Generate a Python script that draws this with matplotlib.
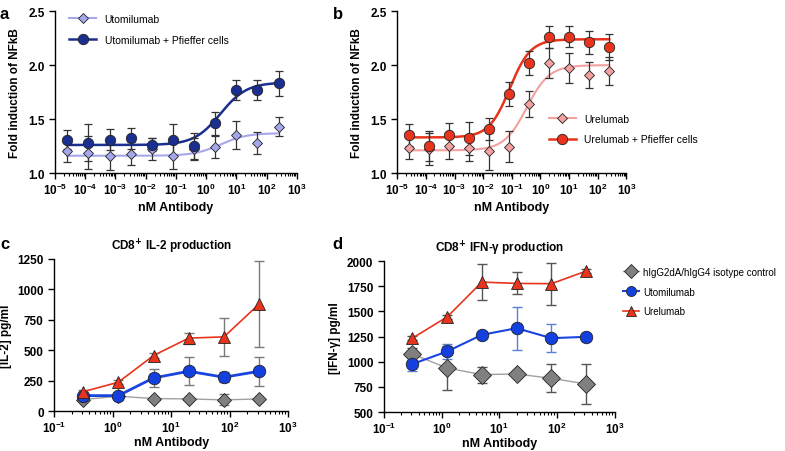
"""
NFkB reporter and CD8+ cytokine responses to anti-4-1BB antibodies
"""

import numpy as np
import matplotlib.pyplot as plt
from matplotlib.ticker import LogLocator, NullFormatter

plt.rcParams['font.family'] = ['Liberation Sans', 'DejaVu Sans']
plt.rcParams['font.weight'] = 'bold'
plt.rcParams['axes.labelweight'] = 'bold'
plt.rcParams['axes.titleweight'] = 'bold'

#---------------------------------------------------------------------------------------------------
# Data
#---------------------------------------------------------------------------------------------------

# Panels a, b: 5-fold dilution series (nM)
conc_ab = [2.56e-5, 1.28e-4, 6.4e-4, 3.2e-3, 1.6e-2, 0.08, 0.4, 2.0, 10.0, 50.0, 250.0]

uto = [1.20, 1.19, 1.16, 1.18, 1.22, 1.16, 1.22, 1.24, 1.35, 1.28, 1.43]
uto_err = [0.10, 0.15, 0.13, 0.11, 0.10, 0.12, 0.10, 0.10, 0.13, 0.10, 0.09]
uto_pf = [1.31, 1.28, 1.31, 1.32, 1.26, 1.31, 1.25, 1.46, 1.77, 1.77, 1.83]
uto_pf_err = [0.09, 0.17, 0.10, 0.10, 0.06, 0.14, 0.12, 0.11, 0.09, 0.09, 0.12]

ure = [1.23, 1.22, 1.25, 1.235, 1.20, 1.245, 1.64, 2.02, 1.975, 1.91, 1.95]
ure_err = [0.10, 0.15, 0.12, 0.12, 0.17, 0.14, 0.12, 0.14, 0.14, 0.12, 0.13]
ure_pf = [1.35, 1.25, 1.35, 1.32, 1.41, 1.73, 2.02, 2.26, 2.265, 2.21, 2.17]
ure_pf_err = [0.10, 0.14, 0.11, 0.15, 0.10, 0.11, 0.11, 0.10, 0.10, 0.11, 0.12]

# 4PL fit parameters: bottom, top, EC50 (nM), hill slope
fit_uto = [1.16, 1.37, 3.0, 1.0]
fit_uto_pf = [1.26, 1.84, 3.0, 1.0]
fit_ure = [1.21, 2.00, 0.33, 1.1]
fit_ure_pf = [1.33, 2.24, 0.085, 1.2]

# Panels c, d: 4-fold dilution series (nM)
conc_cd = [0.3125, 1.25, 5.0, 20.0, 80.0, 320.0]

il2_iso = [96, 123, 104, 101, 93, 101]
il2_iso_err = [10, 10, 8, 8, 45, 8]
il2_uto = [128, 128, 273, 328, 279, 328]
il2_uto_err = [15, 12, 75, 115, 40, 120]
il2_ure = [160, 238, 457, 600, 610, 880]
il2_ure_err = [15, 15, 20, 45, 157, 350]

ifn_iso = [1077, 938, 873, 879, 836, 780]
ifn_iso_err = [60, 220, 80, 20, 140, 200]
ifn_uto = [978, 1103, 1268, 1334, 1235, 1248]
ifn_uto_err = [70, 75, 20, 215, 140, 20]
ifn_ure = [1235, 1446, 1792, 1779, 1776, 1901]
ifn_ure_err = [20, 20, 180, 110, 210, 20]


#---------------------------------------------------------------------------------------------------
# Helpers
#---------------------------------------------------------------------------------------------------

def four_pl(x, p):
    bottom, top, ec50, hill = p
    return bottom + (top - bottom) / (1.0 + (ec50 / x)**hill)


def style_axis(ax, xlim):
    ax.set_xscale('log')
    ax.set_xlim(xlim)
    for s in ['top', 'right']:
        ax.spines[s].set_visible(False)
    for s in ['left', 'bottom']:
        ax.spines[s].set_linewidth(1.0)
    ax.xaxis.set_major_locator(LogLocator(base=10, numticks=20))
    ax.xaxis.set_minor_locator(LogLocator(base=10, subs=np.arange(2, 10), numticks=20))
    ax.xaxis.set_minor_formatter(NullFormatter())
    ax.tick_params(axis='both', which='major', length=4, width=1.0, labelsize=8.5, direction='out')
    ax.tick_params(axis='x', which='major', pad=2)
    ax.tick_params(axis='x', which='minor', length=2, width=0.8, direction='out')
    for lbl in ax.get_xticklabels() + ax.get_yticklabels():
        lbl.set_fontweight('bold')


def plot_dose(ax, x, y, err, fit, color, mfc, marker, ms, lw, label):
    xs = np.logspace(np.log10(x[0]), np.log10(x[-1]), 300)
    ax.plot(xs, four_pl(xs, fit), color=color, lw=lw, zorder=2)
    ax.errorbar(x, y, yerr=err, fmt='none', ecolor='#333333', elinewidth=0.9, capsize=3,
                capthick=0.9, zorder=3)
    ax.plot(x, y, ls='none', marker=marker, ms=ms, mfc=mfc, mec='#222222', mew=0.6, zorder=4)
    # legend proxy
    ax.plot([], [], color=color, lw=lw, marker=marker, ms=ms, mfc=mfc, mec='#222222',
            mew=0.6, label=label)


def plot_cyto(ax, x, y, err, color, ecolor, marker, ms, lw, lcolor, label):
    ax.errorbar(x, y, yerr=err, fmt='none', ecolor=ecolor, elinewidth=1.0, capsize=3.5,
                capthick=1.0, zorder=2)
    ax.plot(x, y, color=lcolor, lw=lw, marker=marker, ms=ms, mfc=color, mec='#222222',
            mew=0.6, zorder=3, label=label)


#---------------------------------------------------------------------------------------------------
# Make plot
#---------------------------------------------------------------------------------------------------

fig = plt.figure(figsize=(7.85, 4.52), dpi=100)

ax_a = fig.add_axes([0.070, 0.615, 0.308, 0.358])
ax_b = fig.add_axes([0.506, 0.615, 0.292, 0.358])
ax_c = fig.add_axes([0.069, 0.088, 0.298, 0.337])
ax_d = fig.add_axes([0.489, 0.086, 0.294, 0.334])

# Panel a
plot_dose(ax_a, conc_ab, uto, uto_err, fit_uto, '#a6a6ea', '#a6a6ea', 'D', 5, 1.5, 'Utomilumab')
plot_dose(ax_a, conc_ab, uto_pf, uto_pf_err, fit_uto_pf, '#1a2f8f', '#1a2f8f', 'o', 7.5, 1.8,
          'Utomilumab + Pfieffer cells')
ax_a.legend(loc='upper left', bbox_to_anchor=(0.02, 1.04), frameon=False,
            handlelength=2.6, labelspacing=1.0, prop={'weight': 'normal', 'size': 7.5})

# Panel b
plot_dose(ax_b, conc_ab, ure, ure_err, fit_ure, '#f2a0a0', '#f2a0a0', 'D', 5, 1.5, 'Urelumab')
plot_dose(ax_b, conc_ab, ure_pf, ure_pf_err, fit_ure_pf, '#e8341c', '#e8341c', 'o', 7.5, 1.8,
          'Urelumab + Pfieffer cells')
ax_b.legend(loc='lower left', bbox_to_anchor=(0.62, 0.12), frameon=False,
            handlelength=2.6, labelspacing=1.0, prop={'weight': 'normal', 'size': 7.5})

for ax in [ax_a, ax_b]:
    style_axis(ax, (1e-5, 1e3))
    ax.set_ylim(1.0, 2.5)
    ax.set_yticks([1.0, 1.5, 2.0, 2.5])
    ax.set_yticklabels(['1.0', '1.5', '2.0', '2.5'], fontweight='bold')
    ax.set_xlabel('nM Antibody', fontsize=9, labelpad=3)
    ax.set_ylabel('Fold induction of NFkB', fontsize=8.5, labelpad=5)

# Panel c
plot_cyto(ax_c, conc_cd, il2_iso, il2_iso_err, '#808080', '#7a7a7a', 'D', 7, 1.0, '#a0a0a0',
          'hIgG2dA/hIgG4 isotype control')
plot_cyto(ax_c, conc_cd, il2_uto, il2_uto_err, '#1440e0', '#7a7a7a', 'o', 9, 2.0, '#1a44e0',
          'Utomilumab')
plot_cyto(ax_c, conc_cd, il2_ure, il2_ure_err, '#e8341c', '#7a7a7a', '^', 8.5, 1.2, '#e8341c',
          'Urelumab')
style_axis(ax_c, (0.1, 1000))
ax_c.set_ylim(0, 1250)
ax_c.set_yticks([0, 250, 500, 750, 1000, 1250])
ax_c.set_yticklabels(['0', '250', '500', '750', '1000', '1250'], fontweight='bold')
ax_c.set_xlabel('nM Antibody', fontsize=9, labelpad=1)
ax_c.set_ylabel('[IL-2] pg/ml', fontsize=8.5, labelpad=4)
ax_c.set_title('CD8$^{\\mathbf{+}}$ IL-2 production', fontsize=8.5, pad=7)

# Panel d
plot_cyto(ax_d, conc_cd, ifn_iso, ifn_iso_err, '#808080', '#555555', 'D', 9, 1.0, '#a0a0a0',
          'hIgG2dA/hIgG4 isotype control')
plot_cyto(ax_d, conc_cd, ifn_uto, ifn_uto_err, '#1440e0', '#5a7fd8', 'o', 9, 1.5, '#1a44e0',
          'Utomilumab')
plot_cyto(ax_d, conc_cd, ifn_ure, ifn_ure_err, '#e8341c', '#555555', '^', 8.5, 1.2, '#e8341c',
          'Urelumab')
style_axis(ax_d, (0.1, 1000))
ax_d.set_ylim(500, 2000)
ax_d.set_yticks([500, 750, 1000, 1250, 1500, 1750, 2000])
ax_d.set_yticklabels(['500', '750', '1000', '1250', '1500', '1750', '2000'], fontweight='bold')
ax_d.set_xlabel('nM Antibody', fontsize=9, labelpad=1)
ax_d.set_ylabel('[IFN-γ] pg/ml', fontsize=8.5, labelpad=4)
ax_d.set_title('CD8$^{\\mathbf{+}}$ IFN-γ production', fontsize=8.5, pad=7)
ax_d.legend(loc='upper left', bbox_to_anchor=(1.0, 1.02), frameon=False, handlelength=1.6,
            handletextpad=0.4, labelspacing=1.0, markerscale=0.8,
            prop={'weight': 'normal', 'size': 7.0})

# Panel letters
for x, y, s in [(0.0, 0.985, 'a'), (0.424, 0.985, 'b'), (0.0, 0.475, 'c'), (0.424, 0.475, 'd')]:
    fig.text(x, y, s, fontsize=12, fontweight='bold', va='top', ha='left')

plt.savefig('out.png', dpi=100)
